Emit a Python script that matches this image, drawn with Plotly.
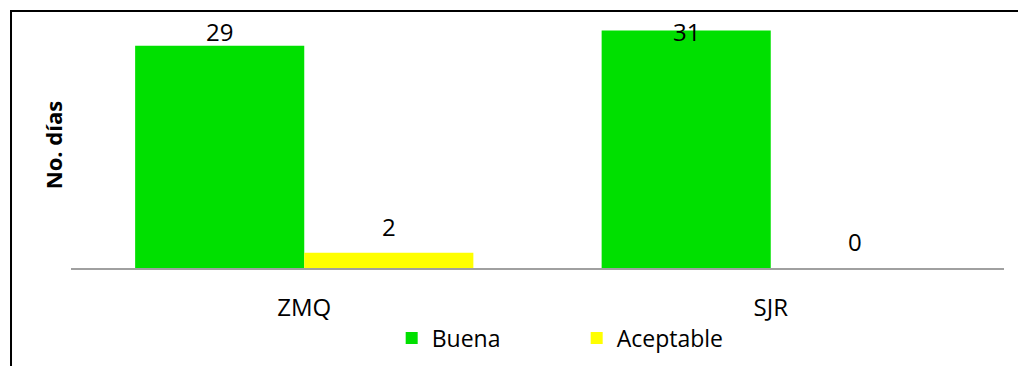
import plotly.graph_objects as go

categories = ["ZMQ", "SJR"]
series_names = ["Buena", "Aceptable"]
buena = [29, 31]
aceptable = [2, 0]
series_values = [buena, aceptable]
colors = ["#00E000", "#FFFF00"]

FONT = "Open Sans"
Y_MAX = 32.1
LABEL_OFFSET = 3.4   # data units above bar top
LABEL_CAP = 30.8     # labels are kept inside the plot area

fig = go.Figure()
for name, vals, col in zip(series_names, series_values, colors):
    fig.add_trace(go.Bar(
        name=name, x=categories, y=vals, marker_color=col,
        marker_line_width=0,
    ))

# data labels
bar_px = 169
for i, vals in enumerate(series_values):
    shift = (i - 0.5) * bar_px
    for cat, v in zip(categories, vals):
        fig.add_annotation(
            x=cat, y=min(v + LABEL_OFFSET, LABEL_CAP), xref="x", yref="y",
            text=str(v), showarrow=False, xshift=shift,
            yanchor="middle", xanchor="center",
            font=dict(family=FONT, size=24, color="black"),
        )

fig.update_layout(
    width=1018, height=366,
    margin=dict(l=71, r=14, t=22, b=98, autoexpand=False),
    paper_bgcolor="white", plot_bgcolor="white",
    barmode="group", bargap=0.275, bargroupgap=0,
    font=dict(family=FONT, size=24, color="black"),
    showlegend=True,
    legend=dict(
        orientation="h", x=0.542, xanchor="center", y=-0.285, yanchor="middle",
        font=dict(family=FONT, size=23, color="black"),
        entrywidth=140, itemwidth=30, bgcolor="rgba(0,0,0,0)",
    ),
    shapes=[dict(
        type="rect", xref="paper", yref="paper",
        x0=-0.0643, x1=1.03, y0=-0.5, y1=1.045,
        line=dict(color="black", width=2), fillcolor="rgba(0,0,0,0)",
        layer="below",
    )],
)
fig.update_xaxes(
    showline=True, linecolor="#A0A0A0", linewidth=2,
    showgrid=False, zeroline=False, ticks="",
    ticklabelstandoff=17, automargin=False,
    tickfont=dict(family=FONT, size=24, color="black"),
)
fig.update_yaxes(
    range=[0, Y_MAX], showgrid=False, zeroline=False, showline=False,
    showticklabels=False, ticks="", automargin=False,
    title=dict(text="<b>No. días</b>", standoff=1,
               font=dict(family=FONT, size=22, color="black")),
)

fig.write_html("out.html")
